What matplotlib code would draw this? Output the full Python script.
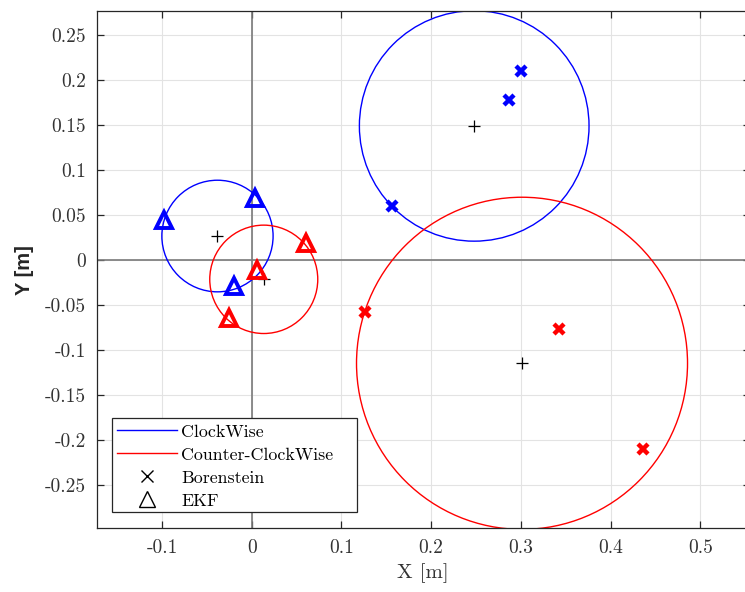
import numpy as np
import matplotlib
matplotlib.use("Agg")
import matplotlib.pyplot as plt
from matplotlib.lines import Line2D
from matplotlib.patches import Circle, Rectangle

plt.rcParams['font.family'] = 'serif'
plt.rcParams['font.serif'] = ['cmr10', 'DejaVu Serif']
plt.rcParams['mathtext.fontset'] = 'cm'
plt.rcParams['axes.unicode_minus'] = False

# Circle fits: center x, center y, radius
cw_big = (0.248, 0.1486, 0.128)
ccw_big = (0.3013, -0.1151, 0.1845)
cw_small = (-0.0382, 0.0263, 0.0620)
ccw_small = (0.0134, -0.0218, 0.0602)

# Borenstein end points
bor_cw_x = [0.3003, 0.2873, 0.1564]
bor_cw_y = [0.2097, 0.1771, 0.0593]
bor_ccw_x = [0.126, 0.342, 0.436]
bor_ccw_y = [-0.0578, -0.0773, -0.2103]

# EKF end points
ekf_cw_x = [-0.0981, 0.0033, -0.020]
ekf_cw_y = [0.0441, 0.0682, -0.0292]
ekf_ccw_x = [0.061, 0.0059, -0.0253]
ekf_ccw_y = [0.0182, -0.0114, -0.0651]

xticks = [-0.1, 0, 0.1, 0.2, 0.3, 0.4, 0.5]
xticklabels = ['-0.1', '0', '0.1', '0.2', '0.3', '0.4', '0.5']
yticks = [-0.25, -0.2, -0.15, -0.1, -0.05, 0, 0.05, 0.1, 0.15, 0.2, 0.25]
yticklabels = ['-0.25', '-0.2', '-0.15', '-0.1', '-0.05', '0', '0.05', '0.1', '0.15', '0.2', '0.25']

W, H = 745, 592
fig = plt.figure(figsize=(W/100, H/100), dpi=100)
left, right, top, bottom = 97, 749.6, 11, 528.3
ax = fig.add_axes([left/W, (H-bottom)/H, (right-left)/W, (bottom-top)/H])

ax.set_xlim(-0.1725, 0.555)
ax.set_ylim(-0.2984, 0.2763)

ax.grid(True, color='#e3e3e3', lw=0.8, zorder=0)
ax.set_axisbelow(True)
ax.axhline(0, color='#7a7a7a', lw=1.2, zorder=1)
ax.axvline(0, color='#7a7a7a', lw=1.2, zorder=1)

for (cx, cy, r), col in [(cw_big, 'blue'), (cw_small, 'blue'), (ccw_big, 'red'), (ccw_small, 'red')]:
    ax.add_patch(Circle((cx, cy), r, fill=False, ec=col, lw=1.0, zorder=2))
    ax.plot([cx], [cy], marker='+', color='black', ms=9, mew=0.9, ls='none', zorder=3)

ax.plot(bor_cw_x, bor_cw_y, 'x', color='blue', ms=7, mew=3.2, zorder=4)
ax.plot(bor_ccw_x, bor_ccw_y, 'x', color='red', ms=7, mew=3.2, zorder=4)
ax.plot(ekf_cw_x, ekf_cw_y, '^', color='blue', mfc='none', ms=11, mew=2.8, zorder=4)
ax.plot(ekf_ccw_x, ekf_ccw_y, '^', color='red', mfc='none', ms=11, mew=2.8, zorder=4)

ax.set_xticks(xticks)
ax.set_xticklabels(xticklabels)
ax.set_yticks(yticks)
ax.set_yticklabels(yticklabels)
ax.tick_params(direction='in', length=5, width=0.9, color='#262626', labelcolor='#333333',
               labelsize=14, top=True, right=True, pad=8)
for s in ax.spines.values():
    s.set_color('#262626')
    s.set_linewidth(0.9)

ax.set_xlabel('X [m]', fontsize=15, color='#333333', labelpad=4)
ax.set_ylabel('Y [m]', fontsize=14.5, fontweight='bold', family='Liberation Sans',
              color='#262626', labelpad=8)

handles = [
    Line2D([], [], color='blue', lw=1.0),
    Line2D([], [], color='red', lw=1.0),
    Line2D([], [], color='black', marker='x', ls='none', ms=8, mew=1.0),
    Line2D([], [], color='black', marker='^', mfc='none', ls='none', ms=11, mew=1.0),
]
labels = ['ClockWise', 'Counter-ClockWise', 'Borenstein', 'EKF']
ax.add_artist(Rectangle((112/W, 1-512/H), 245/W, 94/H, transform=fig.transFigure,
                        fill=True, fc='white', ec='#262626', lw=0.9, zorder=4.5, clip_on=False))
leg = ax.legend(handles, labels, loc='upper left', bbox_to_anchor=(116.7/W, 1-424/H),
                bbox_transform=fig.transFigure,
                fontsize=12.9, frameon=False, handlelength=3.35, handletextpad=0.25,
                labelspacing=0.42, borderpad=0, borderaxespad=0)
leg.set_zorder(5)

fig.savefig('out.png', dpi=100)
